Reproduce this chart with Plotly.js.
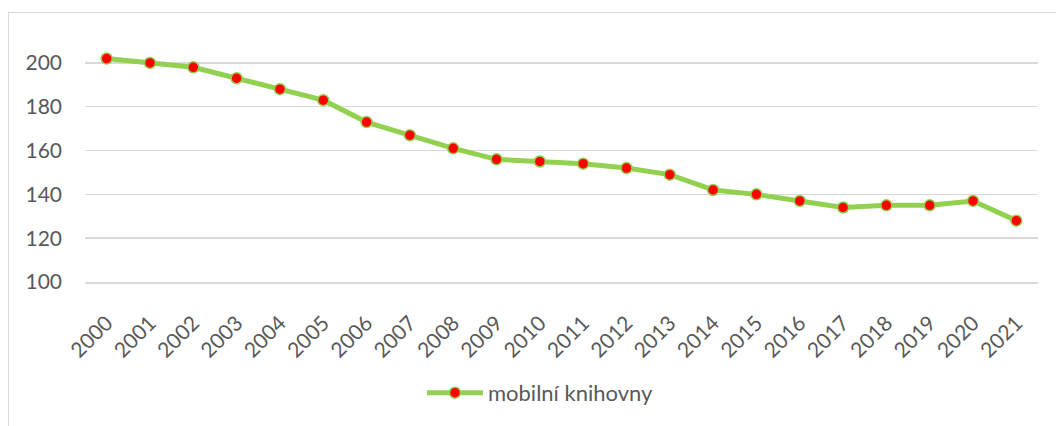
<!DOCTYPE html>
<html>
<head>
<meta charset="utf-8">
<script src="https://cdn.plot.ly/plotly-3.0.1.min.js"></script>
<style>
html,body{margin:0;padding:0;background:#fff;}
#wrap{position:relative;width:1056px;height:426px;overflow:hidden;}
#chart{position:absolute;left:0;top:0;width:1056px;height:426px;}
#frame{position:absolute;left:8px;top:12px;width:1100px;height:500px;border:1px solid #d9d9d9;pointer-events:none;}
</style>
</head>
<body>
<div id="wrap"><div id="chart"></div><div id="frame"></div></div>
<script>
const years = ["2000","2001","2002","2003","2004","2005","2006","2007","2008","2009","2010","2011","2012","2013","2014","2015","2016","2017","2018","2019","2020","2021"];
const mobilniKnihovny = [202,200,198,193,188,183,173,167,161,156,155,154,152,149,142,140,137,134,135,135,137,128];
const seriesName = "mobilní knihovny";
const yTicks = [100,120,140,160,180,200];

const font = {family: "Lato, 'Open Sans', sans-serif", color: "#595959", size: 21};
const LEG_W = 56;

Plotly.newPlot("chart", [{
  type: "scatter",
  mode: "lines+markers",
  x: years,
  y: mobilniKnihovny,
  name: seriesName,
  line: {color: "#92D050", width: 5},
  marker: {color: "#FF0000", size: 11, line: {color: "#92D050", width: 1.5}},
  showlegend: true
}], {
  width: 1056, height: 426,
  margin: {l: 85, r: 18, t: 41, b: 141, pad: 0},
  paper_bgcolor: "#fff", plot_bgcolor: "#fff",
  font: font,
  xaxis: {
    type: "category",
    range: [-0.5, 21.5],
    tickangle: -45,
    showgrid: false,
    zeroline: false,
    showline: true,
    linecolor: "#d9d9d9",
    linewidth: 1.5,
    ticks: "",
    ticklabelstandoff: 19,
    tickfont: {size: 21}
  },
  yaxis: {
    range: [100, 210],
    tickvals: yTicks,
    showgrid: true,
    gridcolor: "#d9d9d9",
    gridwidth: 1.5,
    zeroline: false,
    showline: false,
    ticks: "",
    ticklabelstandoff: 22,
    tickfont: {size: 21}
  },
  showlegend: true,
  legend: {
    orientation: "h",
    x: 0.3536, xanchor: "left",
    y: -0.46, yanchor: "middle",
    itemwidth: LEG_W,
    font: {size: 22, color: "#595959"}
  }
}, {displayModeBar: false, staticPlot: true}).then(function(gd){
  gd.querySelectorAll(".legend .legendlines path").forEach(function(p){
    p.setAttribute("d", "M5,0h" + LEG_W);
  });
  gd.querySelectorAll(".legend .scatterpts path").forEach(function(p){
    p.setAttribute("transform", "translate(" + (5 + LEG_W/2) + ",0)");
  });
});
</script>
</body>
</html>
